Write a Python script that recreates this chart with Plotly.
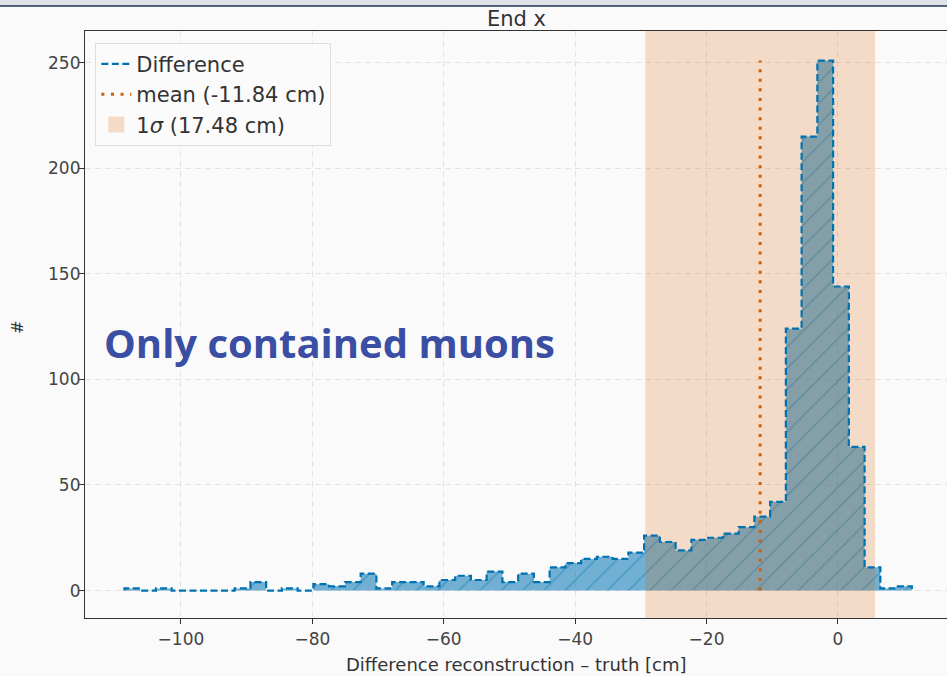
import numpy as np
import plotly.graph_objects as go


# ------------------------------------------
# Data
# ------------------------------------------

bin_edges = np.linspace(-108.6, 11.25, 51)

counts = [
    1, 0, 1, 0, 0, 0, 0, 1, 4, 0,
    1, 0, 3, 2, 4, 8, 1, 4, 4, 2,
    5, 7, 5, 9, 4, 8, 4, 11, 13, 15,
    16, 15, 18, 26, 23, 19, 24, 25, 27, 30,
    35, 42, 124, 215, 251, 144, 68, 11, 1, 2,
]

mean_cm = -11.84
sigma_cm = 17.48

x_ticks = [-100, -80, -60, -40, -20, 0]
y_ticks = [0, 50, 100, 150, 200, 250]

x_range = [-114.6, 16.6]
y_range = [-13, 265]

BLUE = "#0072b2"
VERMILLION = "#d55e00"
SPAN = "rgba(213,94,0,0.2)"
TEXT = "#333333"


# ------------------------------------------
# Step outline of the histogram
# ------------------------------------------

step_x = [bin_edges[0]]
step_y = [0]
for i, c in enumerate(counts):
    step_x += [bin_edges[i], bin_edges[i + 1]]
    step_y += [c, c]
step_x.append(bin_edges[-1])
step_y.append(0)

fig = go.Figure()

# hatched fill
fig.add_trace(
    go.Scatter(
        x=step_x,
        y=step_y,
        mode="lines",
        line=dict(width=0, color=BLUE),
        fill="tozeroy",
        fillcolor="rgba(0,114,178,0.55)",
        fillpattern=dict(
            shape="/",
            size=15,
            solidity=0.08,
            bgcolor="rgba(0,114,178,0.55)",
            fgcolor=BLUE,
            fgopacity=0.45,
        ),
        showlegend=False,
        hoverinfo="skip",
    )
)

# 1 sigma band (drawn above the fill, below the outline)
lo = mean_cm - sigma_cm
hi = mean_cm + sigma_cm
fig.add_trace(
    go.Scatter(
        x=[lo, hi, hi, lo, lo],
        y=[y_range[0], y_range[0], y_range[1], y_range[1], y_range[0]],
        mode="lines",
        line=dict(width=0),
        fill="toself",
        fillcolor=SPAN,
        showlegend=False,
        hoverinfo="skip",
    )
)

# dashed outline
fig.add_trace(
    go.Scatter(
        x=step_x,
        y=step_y,
        mode="lines",
        line=dict(width=2.2, color=BLUE, dash="7px,3.5px"),
        name="Difference",
        legendrank=1,
    )
)

# mean line
fig.add_trace(
    go.Scatter(
        x=[mean_cm, mean_cm],
        y=[0, max(counts)],
        mode="lines",
        line=dict(width=3, color=VERMILLION, dash="3px,6.6px"),
        name="mean (-11.84 cm)",
        legendrank=2,
    )
)

# legend patch for the band
fig.add_trace(
    go.Scatter(
        x=[None],
        y=[None],
        mode="markers",
        marker=dict(symbol="square", size=17, color=SPAN),
        name="1<i>σ</i> (17.48 cm)",
        legendrank=3,
    )
)


# ------------------------------------------
# Layout
# ------------------------------------------

axis_common = dict(
    showline=True,
    linecolor="#333333",
    linewidth=1.2,
    ticks="outside",
    ticklen=5,
    tickcolor="#333333",
    tickfont=dict(family="DejaVu Sans", size=17, color="#444444"),
    showgrid=True,
    gridcolor="#e3e3e3",
    griddash="6px,4px",
    gridwidth=1,
    zeroline=False,
)

fig.update_layout(
    width=947,
    height=676,
    margin=dict(l=85, r=0, t=31, b=58),
    paper_bgcolor="#fafafa",
    plot_bgcolor="#fafafa",
    font=dict(family="DejaVu Sans", color=TEXT),
    xaxis=dict(
        range=x_range,
        tickvals=x_ticks,
        mirror=True,
        **axis_common
    ),
    yaxis=dict(
        range=y_range,
        tickvals=y_ticks,
        ticklabelstandoff=-5,
        **axis_common
    ),
    legend=dict(
        x=0.012,
        y=0.98,
        xanchor="left",
        yanchor="top",
        bgcolor="rgba(250,250,250,0.85)",
        bordercolor="#dddddd",
        borderwidth=1,
        font=dict(family="DejaVu Sans", size=21, color=TEXT),
        itemwidth=30,
    ),
)

# titles as annotations
fig.add_annotation(
    text="End x",
    xref="paper", yref="paper",
    x=0.5, y=1.0204,
    xanchor="center", yanchor="middle",
    showarrow=False,
    font=dict(family="DejaVu Sans", size=21, color=TEXT),
)
fig.add_annotation(
    text="Difference reconstruction – truth [cm]",
    xref="paper", yref="paper",
    x=0.5, y=-0.08,
    xanchor="center", yanchor="middle",
    showarrow=False,
    font=dict(family="DejaVu Sans", size=18, color=TEXT),
)
fig.add_annotation(
    text="#",
    xref="paper", yref="paper",
    x=-0.079, y=0.4957,
    xanchor="center", yanchor="middle",
    textangle=-90,
    showarrow=False,
    font=dict(family="DejaVu Sans", size=16, color=TEXT),
)
fig.add_annotation(
    text="<b>Only contained muons</b>",
    xref="paper", yref="paper",
    x=0.02, y=0.4685,
    xanchor="left", yanchor="middle",
    showarrow=False,
    font=dict(family="Open Sans", size=40, color="#3a4ea4"),
)

# window chrome strip at the very top
fig.add_shape(
    type="rect", xref="paper", yref="paper",
    x0=-0.1, x1=1.0, y0=1 + 25 / 587, y1=1.06,
    fillcolor="#dfe3e8", line=dict(width=0), layer="above",
)
fig.add_shape(
    type="line", xref="paper", yref="paper",
    x0=-0.1, x1=1.0, y0=1 + 25 / 587, y1=1 + 25 / 587,
    line=dict(color="#1f3550", width=1.5), layer="above",
)

fig.write_html(
    "out.html",
    config={"displayModeBar": False},
    post_script="document.body.style.margin='0';"
                "document.body.style.background='#fafafa';",
)
